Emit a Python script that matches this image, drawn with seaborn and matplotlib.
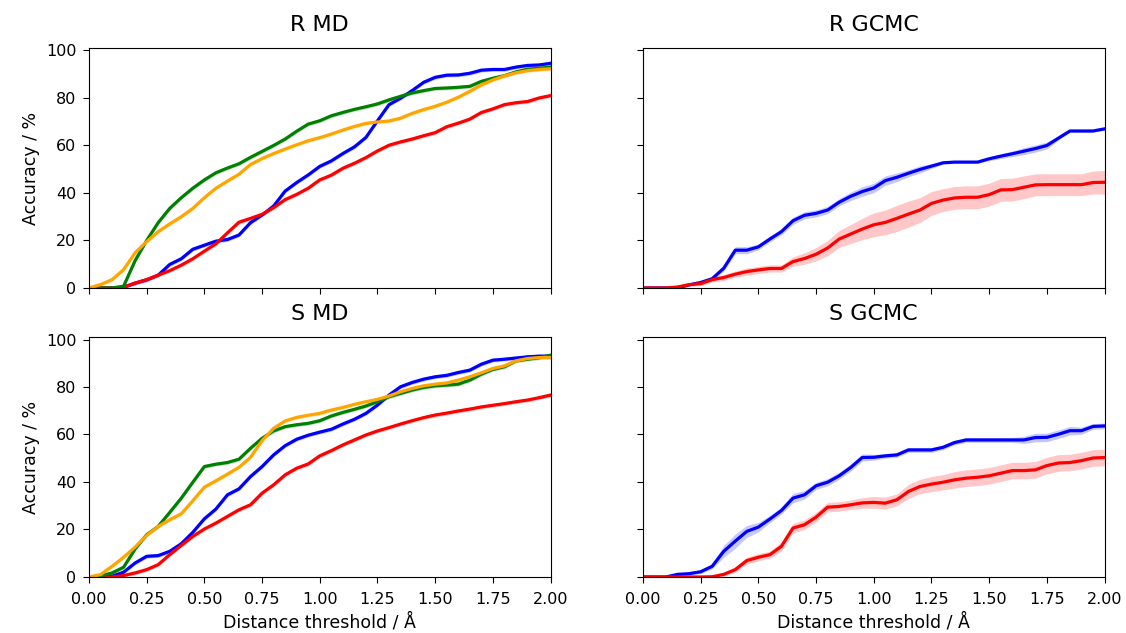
import numpy as np
import pandas as pd
import matplotlib
matplotlib.use("Agg")
import matplotlib.pyplot as plt
import seaborn as sns

# ---------------- data ----------------
thresholds = [round(0.05 * i, 2) for i in range(41)]

titles = ["R MD", "R GCMC", "S MD", "S GCMC"]

# R MD
r_md_blue = [0, 0, 0, 0.3, 2, 3.4, 5.4, 9.9, 12.3, 16.3, 18, 19.7, 20.4, 22.3, 27.5, 30.7, 34.5, 40.8, 44.4, 47.6, 51.2,
             53.5, 56.6, 59.4, 63.4, 70.4, 77.2, 79.9, 83.1, 86.6, 88.7, 89.6, 89.7, 90.4, 91.7, 92, 92, 93, 93.7, 93.9, 94.6]
r_md_red = [0, 0, 0, 0.3, 2.1, 3.5, 5.4, 7.3, 9.6, 12.3, 15.5, 18.6, 23.2, 27.7, 29.3, 31, 33.8, 37.2, 39.4, 42, 45.5,
            47.5, 50.4, 52.5, 54.9, 57.7, 60.1, 61.5, 62.7, 64.1, 65.4, 67.9, 69.4, 71.1, 73.9, 75.4, 77.2, 78, 78.5, 80, 81]
r_md_green = [0, 0, 0, 0.7, 11.5, 20, 27.5, 33.5, 38, 42, 45.5, 48.5, 50.5, 52.3, 55, 57.5, 60, 62.7, 66, 69, 70.4,
              72.5, 73.9, 75.2, 76.3, 77.5, 79.2, 80.7, 82.1, 83.1, 84, 84.2, 84.5, 84.9, 87, 88.3, 89.4, 91, 92.1, 92.5, 93]
r_md_orange = [0, 1.4, 3.5, 7.7, 14.8, 19.5, 23.7, 27, 30, 33.5, 38, 42, 45, 47.9, 52, 54.5, 56.6, 58.5, 60.3, 62, 63.3,
               64.8, 66.5, 68, 69.3, 69.9, 70.3, 71.5, 73.5, 75.1, 76.5, 78.2, 80.3, 82.8, 85.5, 87.6, 89.3, 90.6, 91.5, 92, 92.3]

# S MD
s_md_blue = [0, 0, 0.3, 2, 5.9, 8.7, 9, 10.8, 14, 18.8, 24.5, 28.6, 34.6, 37.1, 42.3, 46.5, 51.4, 55.3, 58, 59.7, 61,
             62.2, 64.4, 66.4, 68.9, 72.4, 76.6, 80.1, 81.9, 83.3, 84.3, 84.9, 86.1, 87.1, 89.6, 91.3, 91.7, 92.2, 92.7, 93, 93]
s_md_red = [0, 0, 0, 0.6, 1.7, 3.1, 5.2, 9.4, 13.3, 17.1, 20.2, 22.7, 25.5, 28.3, 30.4, 35.3, 38.8, 43, 45.8, 47.6, 51,
            53.2, 55.6, 57.7, 59.8, 61.5, 62.9, 64.4, 65.8, 67.1, 68.2, 69, 69.9, 70.7, 71.6, 72.3, 73, 73.8, 74.5, 75.5, 76.6]
s_md_green = [0, 0.4, 1.7, 4.1, 11.8, 17.8, 21.3, 27.2, 33.2, 39.9, 46.5, 47.5, 48.2, 49.6, 54.2, 58.4, 61.5, 63.3, 64.1, 64.7, 65.8,
              67.8, 69.3, 70.6, 72, 73.8, 75.9, 77.3, 78.7, 79.8, 80.5, 80.8, 81.2, 82.9, 85.4, 87.4, 88.5, 91, 91.7, 92.3, 93.4]
s_md_orange = [0, 1, 4.5, 8.3, 12.6, 17.5, 21.3, 24.1, 26.6, 32.1, 37.8, 40.5, 43.3, 46.2, 50.4, 57.4, 62.6, 65.7, 67.2, 68.1, 68.9,
               70.3, 71.4, 72.7, 73.8, 74.8, 76.2, 78, 79.4, 80.5, 81.2, 81.7, 82.9, 84.3, 86, 87.8, 88.9, 91, 92, 92.4, 92.4]

# R GCMC
r_gcmc_blue = [0, 0, 0, 0, 1.3, 2.3, 3.9, 8.3, 15.9, 15.9, 17.3, 20.6, 23.7, 28.3, 30.6, 31.4, 32.8, 36.1, 38.6, 40.6, 42.1,
               45.2, 46.6, 48.3, 49.9, 51.3, 52.7, 53, 53, 53, 54.4, 55.5, 56.5, 57.6, 58.7, 60, 63.1, 66.1, 66.1, 66.1, 67]
r_gcmc_red = [0, 0, 0, 0.4, 1.4, 1.8, 3.5, 4.4, 5.8, 6.9, 7.6, 8.2, 8.2, 11.1, 12.4, 14.2, 16.8, 20.6, 22.7, 24.8, 26.6,
              27.6, 29.3, 31.1, 32.8, 35.6, 37, 37.9, 38.2, 38.2, 39.3, 41.3, 41.4, 42.4, 43.4, 43.5, 43.5, 43.5, 43.5, 44.4, 44.5]

# S GCMC
s_gcmc_blue = [0, 0, 0, 1.1, 1.4, 2.2, 4.5, 10.8, 15.1, 19.2, 21, 24.4, 28, 33.2, 34.6, 38.4, 39.9, 42.6, 46.1, 50.3, 50.4,
               51, 51.4, 53.5, 53.5, 53.5, 54.6, 56.6, 57.7, 57.7, 57.7, 57.7, 57.7, 57.7, 58.7, 58.8, 60.1, 61.6, 61.6, 63.4, 63.6]
s_gcmc_red = [0, 0, 0, 0, 0, 0, 0.1, 1.1, 3.1, 6.9, 8.3, 9.4, 12.9, 20.6, 22, 25.2, 29.4, 29.7, 30.4, 31.2, 31.4,
              31.1, 32.5, 36, 38.1, 39.1, 39.9, 40.9, 41.6, 42, 42.6, 43.7, 44.8, 44.8, 45.1, 46.9, 48, 48.2, 49, 50.1, 50.3]

# confidence half-widths (in %)
md_band = 0.8
r_gcmc_blue_err = [0, 0, 0, 0.3, 0.5, 0.5, 0.8, 1.2, 1.5, 1.5, 1.2, 1.2, 1.3, 1.5, 1.5, 1.5, 1.5, 1.5, 1.8, 2, 2,
                   2, 1.8, 1.5, 1.5, 1, 0.5, 0.5, 0.5, 0.5, 0.8, 1, 1.2, 1.5, 1.5, 1.5, 0.8, 0.5, 0.5, 0.5, 0.5]
r_gcmc_red_err = [0, 0, 0, 0.5, 0.6, 0.8, 1, 1.2, 1.3, 1.5, 1.5, 1.5, 1.5, 2, 2.4, 2.8, 3.2, 3.6, 4, 4.5, 5,
                  5.2, 5.5, 5.5, 5.2, 5, 4.8, 4.8, 4.8, 4.8, 4.8, 4.8, 4.8, 4.8, 4.6, 4.6, 4.6, 4.6, 4.6, 4.8, 5]
s_gcmc_blue_err = [0, 0, 0, 0.5, 0.6, 0.8, 1, 2.5, 3, 2.5, 2, 1.5, 1.5, 2, 1.8, 1.5, 1.5, 1.5, 1.5, 1.5, 1.2,
                   1, 1, 1, 1, 1, 1, 1, 1, 1, 1, 1, 1, 1.5, 1.8, 1.8, 1.8, 1.8, 1.5, 1.2, 1.2]
s_gcmc_red_err = [0, 0, 0, 0, 0, 0, 0.3, 0.8, 1.2, 1.5, 1.5, 1.5, 2, 2, 2, 2, 2, 2, 2, 2.2, 2.5,
                  2.5, 2.5, 3, 3, 3.2, 3.2, 3.5, 3.5, 3.5, 3.5, 3.5, 3.5, 3.5, 3.5, 3.5, 3.5, 3.5, 3.5, 3.5, 3.5]

x_ticks = [0.0, 0.25, 0.5, 0.75, 1.0, 1.25, 1.5, 1.75, 2.0]
y_ticks = [0, 20, 40, 60, 80, 100]

panels = {
    "R MD": [("blue", r_md_blue, md_band), ("red", r_md_red, md_band),
             ("green", r_md_green, md_band), ("orange", r_md_orange, md_band)],
    "R GCMC": [("blue", r_gcmc_blue, r_gcmc_blue_err), ("red", r_gcmc_red, r_gcmc_red_err)],
    "S MD": [("blue", s_md_blue, md_band), ("red", s_md_red, md_band),
             ("green", s_md_green, md_band), ("orange", s_md_orange, md_band)],
    "S GCMC": [("blue", s_gcmc_blue, s_gcmc_blue_err), ("red", s_gcmc_red, s_gcmc_red_err)],
}

# ---------------- plot ----------------
plt.rcParams["font.family"] = ["DejaVu Sans"]
fig, axes = plt.subplots(2, 2, figsize=(11.26, 6.33), dpi=100, sharex=True, sharey=True)
fig.subplots_adjust(left=0.079, right=0.981, top=0.924, bottom=0.0885, wspace=0.2, hspace=0.205)

x = np.array(thresholds)
for ax, title in zip(axes.flat, titles):
    for color, vals, err in panels[title]:
        y = np.array(vals, dtype=float)
        e = np.array(err, dtype=float) if np.ndim(err) else np.full_like(y, err)
        df = pd.DataFrame({"threshold": x, "accuracy": y})
        ax.fill_between(x, np.clip(y - e, 0, None), y + e, color=color, alpha=0.22, linewidth=0)
        sns.lineplot(data=df, x="threshold", y="accuracy", color=color, linewidth=2.3, ax=ax, errorbar=None)
    ax.set_title(title, fontsize=16, pad=12)
    ax.set_xlim(0, 2)
    ax.set_ylim(0, 101)
    ax.set_xticks(x_ticks)
    ax.set_xticklabels([f"{t:.2f}" for t in x_ticks])
    ax.set_yticks(y_ticks)
    ax.tick_params(labelsize=11.5, length=4, pad=5)
    ax.tick_params(axis="x", pad=7)
    ax.set_xlabel("")
    ax.set_ylabel("")

for ax in axes[1, :]:
    ax.set_xlabel("Distance threshold / Å", fontsize=12.5, labelpad=4)
for ax in axes[:, 0]:
    ax.set_ylabel("Accuracy / %", fontsize=12.5)

fig.savefig("out.png", dpi=100)
